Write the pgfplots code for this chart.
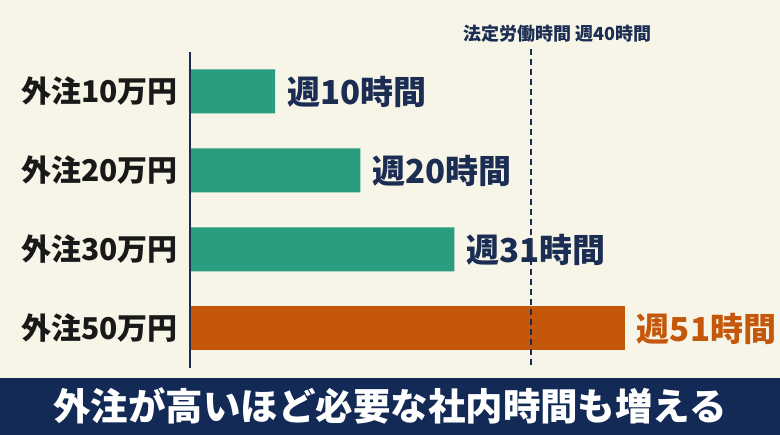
\documentclass[border=0pt]{standalone}
\usepackage{fontspec}
\setmainfont{Noto Sans CJK JP}
\usepackage{pgfplots}
\pgfplotsset{compat=1.18}

\definecolor{bg}{HTML}{F6F5E7}
\definecolor{band}{HTML}{122A55}
\definecolor{navy}{HTML}{1B2D52}
\definecolor{tealbar}{HTML}{2A9D80}
\definecolor{orangebar}{HTML}{C4570A}

\begin{document}
\begin{tikzpicture}[x=1pt,y=1pt]
  % canvas and bottom band
  \fill[bg] (0,0) rectangle (780,435);
  \fill[band] (0,0) rectangle (780,57);
  \node[text=white, font=\bfseries\fontsize{37.5}{37.5}\selectfont] at (390,29)
    {外注が高いほど必要な社内時間も増える};

  \begin{axis}[
    at={(190pt,67pt)}, anchor=south west,
    scale only axis, width=590pt, height=316pt,
    xmin=0, xmax=69.2, ymin=-0.5, ymax=3.5,
    y dir=reverse,
    xbar, bar width=44pt, bar shift=0pt,
    clip=false,
    axis line style={draw=none},
    major tick length=0pt,
    xtick=\empty,
    ytick={0,1,2,3},
    yticklabels={外注10万円,外注20万円,外注30万円,外注50万円},
    yticklabel style={font=\bfseries\fontsize{30}{30}\selectfont,
      text=black!90, inner sep=0pt, xshift=-12pt},
    /pgf/number format/assume math mode=true,
    nodes near coords={週\pgfmathprintnumber{\pgfplotspointmeta}時間},
    every node near coord/.append style={anchor=west, inner sep=0pt,
      xshift=12pt, font=\bfseries\fontsize{33}{33}\selectfont},
  ]
    \addplot[fill=tealbar, draw=none,
      every node near coord/.append style={text=navy}]
      coordinates {(10,0) (20,1) (31,2)};
    \addplot[fill=orangebar, draw=none,
      every node near coord/.append style={text=orangebar}]
      coordinates {(51,3)};

    % left axis line and 40-hour reference line
    \draw[navy, line width=2pt] (axis cs:0,-0.5) -- (axis cs:0,3.5);
    \draw[navy, line width=1.5pt, dash pattern=on 6pt off 4pt]
      (axis cs:40,-0.54) -- (axis cs:40,3.5);
  \end{axis}

  \node[anchor=west, inner sep=0pt, text=navy,
    font=\bfseries\fontsize{18}{18}\selectfont] at (463,401)
    {法定労働時間 週40時間};
\end{tikzpicture}
\end{document}
